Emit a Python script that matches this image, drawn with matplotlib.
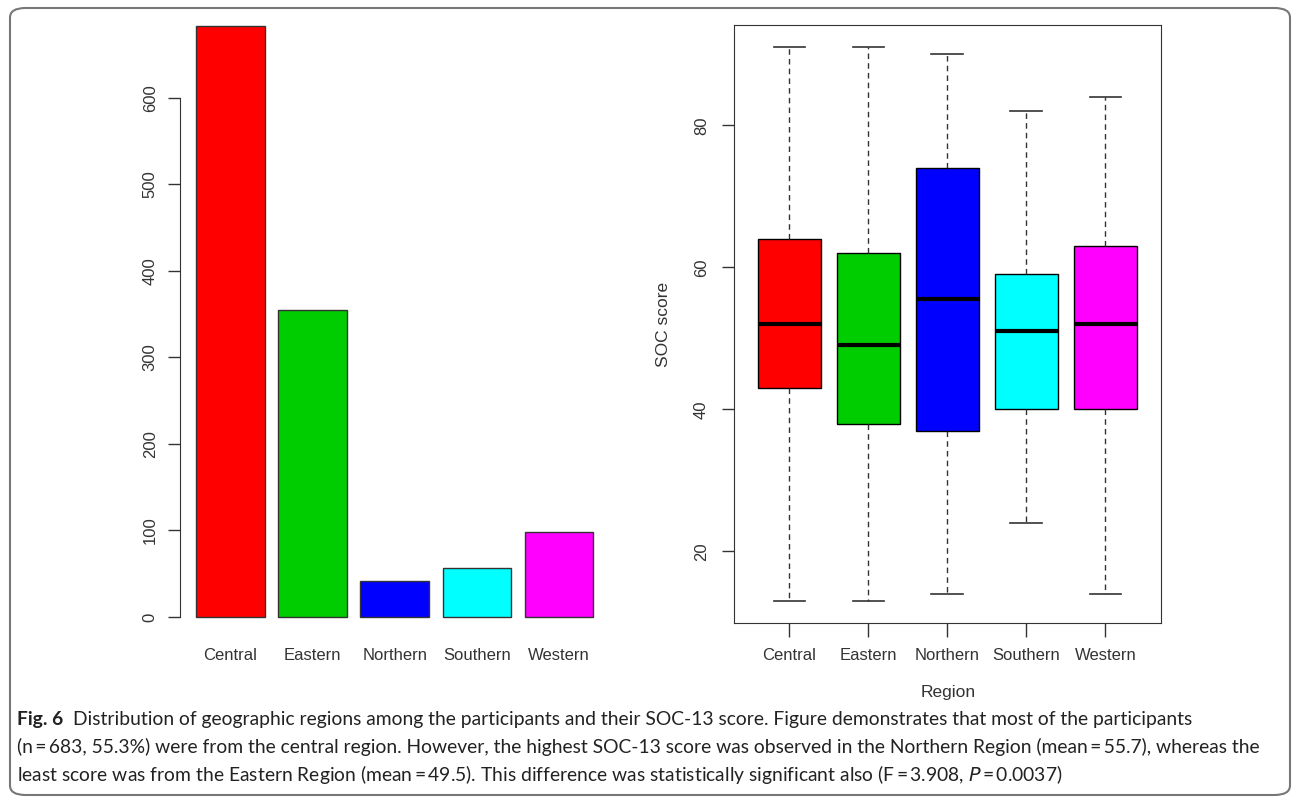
import matplotlib
matplotlib.use('Agg')
import matplotlib.pyplot as plt
from matplotlib.patches import FancyBboxPatch

# data
regions = ['Central', 'Eastern', 'Northern', 'Southern', 'Western']
counts = [683, 355, 42, 57, 98]
colors = ['#FF0000', '#00CD00', '#0000FF', '#00FFFF', '#FF00FF']

soc_min = [13, 13, 14, 24, 14]
soc_q1 = [43, 38, 37, 40, 40]
soc_med = [52, 49, 55.5, 51, 52]
soc_q3 = [64, 62, 74, 59, 63]
soc_max = [91, 91, 90, 82, 84]

caption = [
    'Distribution of geographic regions among the participants and their SOC-13 score. Figure demonstrates that most of the participants',
    '(n\u2009=\u2009683, 55.3%) were from the central region. However, the highest SOC-13 score was observed in the Northern Region (mean\u2009=\u200955.7), whereas the',
    'least score was from the Eastern Region (mean\u2009=\u200949.5). This difference was statistically significant also (F\u2009=\u20093.908, $P$\u2009=\u20090.0037)',
]

W, H = 1295, 799
fig = plt.figure(figsize=(W / 100, H / 100), dpi=100)
plt.rcParams['font.family'] = ['Liberation Sans', 'DejaVu Sans']
ink = '#333333'


def px_axes(l, t, r, b):
    return fig.add_axes([l / W, 1 - b / H, (r - l) / W, (b - t) / H])


# frame round the whole figure
frame = FancyBboxPatch((10 / W, 4 / H), 1280 / W, 787 / H,
                       boxstyle='round,pad=0,rounding_size=0.012',
                       transform=fig.transFigure, fill=False,
                       edgecolor='#777777', linewidth=1.5)
fig.patches.append(frame)

# ---- left: bar chart of counts
ax1 = px_axes(180, 3, 609, 623)
xs = [0.7 + 1.2 * i for i in range(len(regions))]
ax1.bar(xs, counts, width=1.0, color=colors, edgecolor=ink, linewidth=1)
ax1.set_xlim(-0.038, 6.232)
ax1.set_ylim(-6.94, 709.8)
for s in ['top', 'right', 'bottom']:
    ax1.spines[s].set_visible(False)
ax1.spines['left'].set_bounds(0, 600)
ax1.spines['left'].set_color(ink)
ax1.set_yticks(range(0, 601, 100))
ax1.set_xticks(xs)
ax1.set_xticklabels(regions)
ax1.tick_params(axis='y', length=9, width=1, color=ink, labelcolor=ink,
                labelsize=12, pad=7, labelrotation=90)
ax1.tick_params(axis='x', length=0, labelcolor=ink, labelsize=12, pad=18)
for lbl in ax1.get_yticklabels():
    lbl.set_va('center')

# ---- right: SOC score box plot
ax2 = px_axes(734, 25, 1160.6, 623.3)
stats = []
for i in range(len(regions)):
    stats.append({'whislo': soc_min[i], 'q1': soc_q1[i], 'med': soc_med[i],
                  'q3': soc_q3[i], 'whishi': soc_max[i], 'fliers': []})
pos = list(range(1, len(regions) + 1))
bp = ax2.bxp(stats, positions=pos, widths=0.8, capwidths=0.4,
             patch_artist=True, showfliers=False,
             boxprops=dict(edgecolor='black', linewidth=1),
             medianprops=dict(color='black', linewidth=3, solid_capstyle='butt'),
             whiskerprops=dict(color=ink, linewidth=1, linestyle=(0, (4, 3))),
             capprops=dict(color=ink, linewidth=1.2))
for patch, c in zip(bp['boxes'], colors):
    patch.set_facecolor(c)
ax2.set_xlim(0.3, 5.7)
ax2.set_ylim(9.88, 94.12)
for s in ax2.spines.values():
    s.set_color(ink)
ax2.set_yticks([20, 40, 60, 80])
ax2.set_xticks(pos)
ax2.set_xticklabels(regions)
ax2.tick_params(axis='y', length=9, width=1, color=ink, labelcolor=ink,
                labelsize=12, pad=9, labelrotation=90)
ax2.tick_params(axis='x', length=10, width=1, color=ink, labelcolor=ink,
                labelsize=12, pad=8)
for lbl in ax2.get_yticklabels():
    lbl.set_va('center')

fig.text(664 / W, 1 - 324 / H, 'SOC score', rotation=90, ha='center',
         va='center', fontsize=12.5, color=ink)
fig.text(948 / W, 1 - 693 / H, 'Region', ha='center', va='center',
         fontsize=12.5, color=ink)

# ---- caption
cap_font = ['Lato', 'DejaVu Sans']
cap_size = 13.9
ys = [719, 747, 775]
r = fig.canvas.get_renderer()
t0 = fig.text(17 / W, 1 - ys[0] / H, 'Fig. 6', fontsize=cap_size,
              fontweight='bold', family=cap_font, va='center', color='#222222')
bb = t0.get_window_extent(renderer=r)
fig.text(bb.x1 / W + 10 / W, 1 - ys[0] / H, caption[0], fontsize=cap_size,
         family=cap_font, va='center', color='#222222')
for line, y in zip(caption[1:], ys[1:]):
    fig.text(17 / W, 1 - y / H, line, fontsize=cap_size, family=cap_font,
             va='center', color='#222222')

fig.savefig('out.png', dpi=100)
